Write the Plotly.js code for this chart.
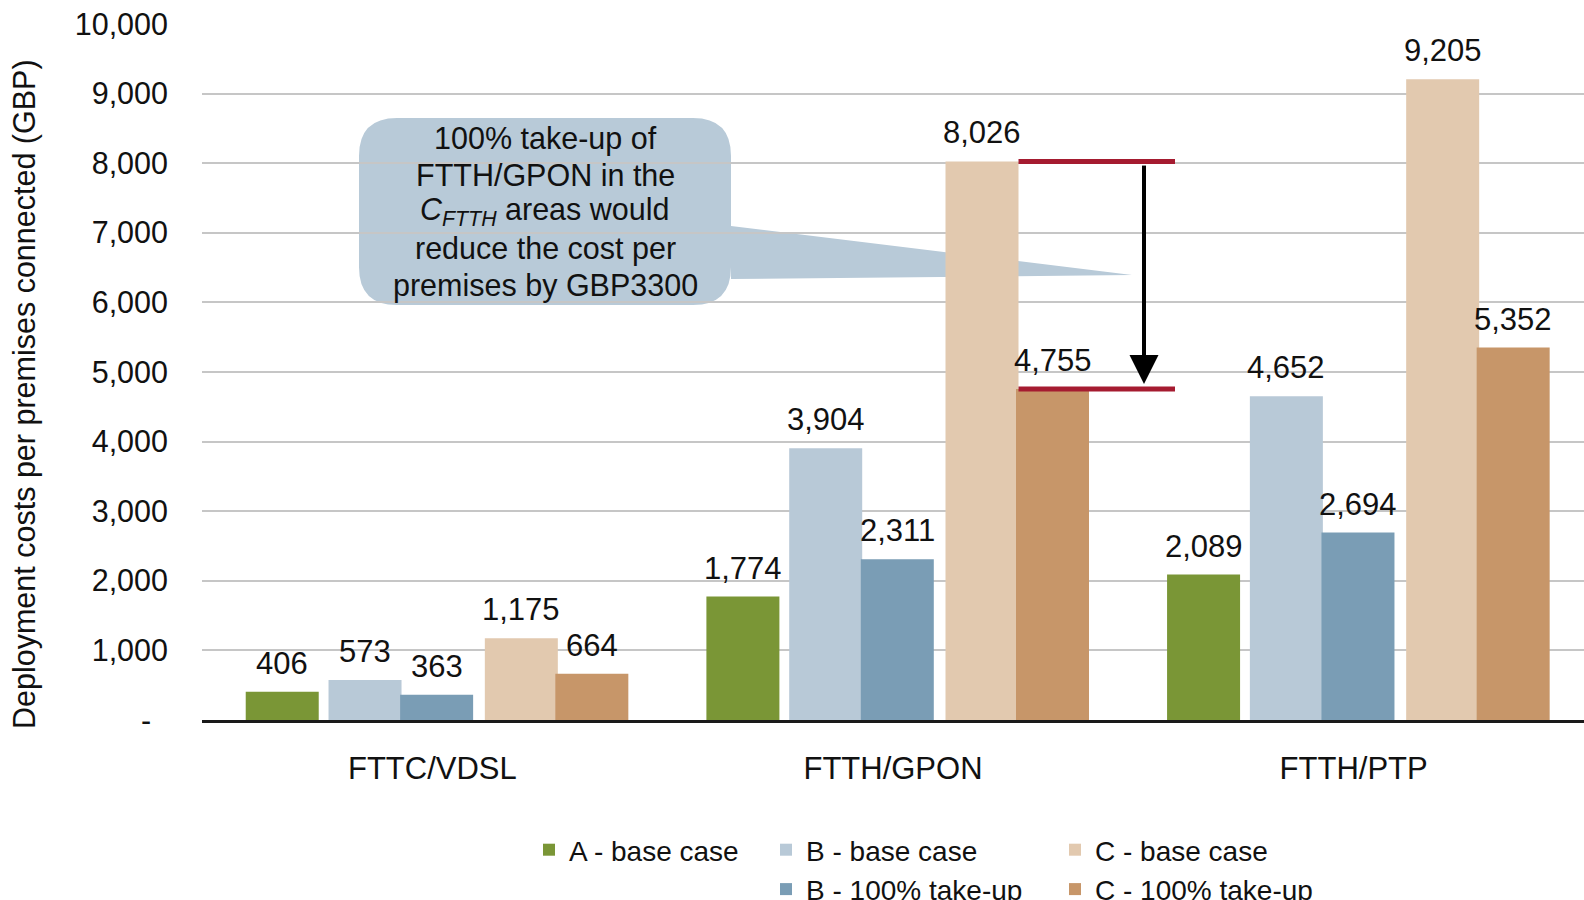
<!DOCTYPE html>
<html>
<head>
<meta charset="utf-8">
<script src="https://cdn.plot.ly/plotly-3.0.1.min.js"></script>
<style>html,body{margin:0;padding:0;background:#fff;}#chart{width:1584px;height:900px;}</style>
</head>
<body>
<div id="chart"></div>
<script>
// ---- Data ----
const categories = ['FTTC/VDSL', 'FTTH/GPON', 'FTTH/PTP'];
const aBase = [406, 1774, 2089];
const bBase = [573, 3904, 4652];
const b100  = [363, 2311, 2694];
const cBase = [1175, 8026, 9205];
const c100  = [664, 4755, 5352];
const seriesNames = ['A - base case', 'B - base case', 'B - 100% take-up', 'C - base case', 'C - 100% take-up'];
const yTickVals = [0, 1000, 2000, 3000, 4000, 5000, 6000, 7000, 8000, 9000, 10000];
const yTickText = ['-\u00a0\u00a0', '1,000', '2,000', '3,000', '4,000', '5,000', '6,000', '7,000', '8,000', '9,000', '10,000'];
const yTitle = 'Deployment costs per premises connected (GBP)';
const calloutLines = ['100% take-up of', 'FTTH/GPON in the', '<i>C<sub>FTTH</sub></i> areas would', 'reduce the cost per', 'premises by GBP3300'];

// ---- Styles / layout constants ----
const W = 1584, H = 900;
const M = {l: 202, r: 0, t: 24, b: 180};
const plotW = W - M.l - M.r, plotH = H - M.t - M.b;
const catPx = plotW / categories.length;
const barW = 73 / catPx;
const seriesOffsets = [-186.6, -103.8, -32.2, 52.5, 123.0].map(v => v / catPx);
const colors = ['#7a9636', '#b8c9d7', '#7a9db5', '#e2c9af', '#c79669'];
const legendIds = ['legend', 'legend2', 'legend2', 'legend3', 'legend3'];
const FONT = 'Liberation Sans, Arial, sans-serif';
const series = [aBase, bBase, b100, cBase, c100];

// pixel helpers for decorations
const px2x = px => (px - M.l) / catPx - 0.5;              // category units
const py2y = py => (M.t + plotH - py) / plotH * 10000;     // data units
const px2p = px => (px - M.l) / plotW;                    // paper x
const py2p = py => (M.t + plotH - py) / plotH;            // paper y

const traces = series.map((vals, s) => ({
  type: 'bar',
  name: seriesNames[s],
  x: categories,
  y: vals,
  offset: seriesOffsets[s],
  width: barW,
  marker: {color: colors[s], line: {width: 0}},
  legend: legendIds[s],
  hoverinfo: 'x+y+name'
}));

const annotations = [];
series.forEach((vals, s) => {
  vals.forEach((v, i) => {
    annotations.push({
      xref: 'x', yref: 'y',
      x: i + seriesOffsets[s] + barW / 2,
      y: v,
      text: v.toLocaleString('en-US'),
      showarrow: false,
      yanchor: 'bottom',
      yshift: 9,
      font: {family: FONT, size: 31, color: '#111'}
    });
  });
});

// y-axis title (rotated)
annotations.push({
  xref: 'paper', yref: 'paper',
  x: px2p(25), y: py2p(394),
  text: yTitle, textangle: -90, showarrow: false,
  xanchor: 'center', yanchor: 'middle',
  font: {family: FONT, size: 30.5, color: '#111'}
});

// callout text, one line at a time
const box = {x0: 359, x1: 731, y0: 118, y1: 305, r: 38};
const lineGap = 36.9, textMid = 212;
calloutLines.forEach((ln, k) => {
  annotations.push({
    xref: 'paper', yref: 'paper',
    x: px2p((box.x0 + box.x1) / 2),
    y: py2p(textMid + (k - (calloutLines.length - 1) / 2) * lineGap),
    text: ln, showarrow: false,
    xanchor: 'center', yanchor: 'middle', align: 'center',
    font: {family: FONT, size: 30.5, color: '#111'}
  });
});

// callout shape path (rounded box + wedge)
function P(px, py) { return px2p(px).toFixed(5) + ',' + py2p(py).toFixed(5); }
const b = box;
const tip = {x: 1132, y: 275}, wedgeTop = 226, wedgeBot = 279;
const calloutPath =
  'M' + P(b.x0 + b.r, b.y0) +
  ' L' + P(b.x1 - b.r, b.y0) +
  ' Q' + P(b.x1, b.y0) + ' ' + P(b.x1, b.y0 + b.r) +
  ' L' + P(b.x1, wedgeTop) +
  ' L' + P(tip.x, tip.y) +
  ' L' + P(b.x1, wedgeBot) +
  ' L' + P(b.x1, b.y1 - b.r) +
  ' Q' + P(b.x1, b.y1) + ' ' + P(b.x1 - b.r, b.y1) +
  ' L' + P(b.x0 + b.r, b.y1) +
  ' Q' + P(b.x0, b.y1) + ' ' + P(b.x0, b.y1 - b.r) +
  ' L' + P(b.x0, b.y0 + b.r) +
  ' Q' + P(b.x0, b.y0) + ' ' + P(b.x0 + b.r, b.y0) + ' Z';

const redX0 = 1 + seriesOffsets[3] + barW;
const redX1 = px2x(1175);
const arrowX = px2x(1144);
const headHalf = 14.5 / catPx;

const shapes = [
  {type: 'path', xref: 'paper', yref: 'paper', path: calloutPath,
   fillcolor: '#b8cad8', line: {width: 0}, layer: 'between'},
  {type: 'line', xref: 'x', yref: 'y', x0: redX0, x1: redX1, y0: cBase[1], y1: cBase[1],
   line: {color: '#a51b30', width: 5}, layer: 'above'},
  {type: 'line', xref: 'x', yref: 'y', x0: redX0, x1: redX1, y0: c100[1], y1: c100[1],
   line: {color: '#a51b30', width: 5}, layer: 'above'},
  {type: 'line', xref: 'x', yref: 'y', x0: arrowX, x1: arrowX, y0: cBase[1] - 60, y1: py2y(358),
   line: {color: '#000', width: 4}, layer: 'above'},
  {type: 'path', xref: 'x', yref: 'y',
   path: 'M' + (arrowX - headHalf) + ',' + py2y(355) + ' L' + (arrowX + headHalf) + ',' + py2y(355) +
         ' L' + arrowX + ',' + py2y(384) + ' Z',
   fillcolor: '#000', line: {width: 0}, layer: 'above'}
];

const legendBase = {
  xref: 'container', yref: 'container', xanchor: 'left', yanchor: 'top',
  orientation: 'v', bgcolor: 'rgba(0,0,0,0)', borderwidth: 0,
  font: {family: FONT, size: 28, color: '#111'}, itemwidth: 30, tracegroupgap: 0
};

const layout = {
  width: W, height: H,
  margin: {l: M.l, r: M.r, t: M.t, b: M.b, pad: 0, autoexpand: false},
  paper_bgcolor: '#fff', plot_bgcolor: '#fff',
  font: {family: FONT, color: '#111'},
  barmode: 'overlay',
  showlegend: true,
  xaxis: {
    type: 'category', categoryorder: 'array', categoryarray: categories,
    range: [-0.5, categories.length - 0.5],
    showline: true, linecolor: '#1a1a1a', linewidth: 3,
    ticks: '', showgrid: false, zeroline: false,
    tickfont: {family: FONT, size: 31, color: '#111'},
    ticklabelstandoff: 19, automargin: false, fixedrange: true
  },
  yaxis: {
    range: [0, 10000], tickmode: 'array', tickvals: yTickVals, ticktext: yTickText,
    showgrid: true, gridcolor: '#c6c6c6', gridwidth: 2, zeroline: false, showline: false,
    ticks: '', tickfont: {family: FONT, size: 30.5, color: '#111'},
    ticklabelstandoff: 33, automargin: false, fixedrange: true
  },
  legend: Object.assign({}, legendBase, {x: 529 / W, y: 1 - 825 / H}),
  legend2: Object.assign({}, legendBase, {x: 766 / W, y: 1 - 825 / H}),
  legend3: Object.assign({}, legendBase, {x: 1055 / W, y: 1 - 825 / H}),
  annotations: annotations,
  shapes: shapes
};

Plotly.newPlot('chart', traces, layout, {displayModeBar: false, staticPlot: true});
</script>
</body>
</html>
